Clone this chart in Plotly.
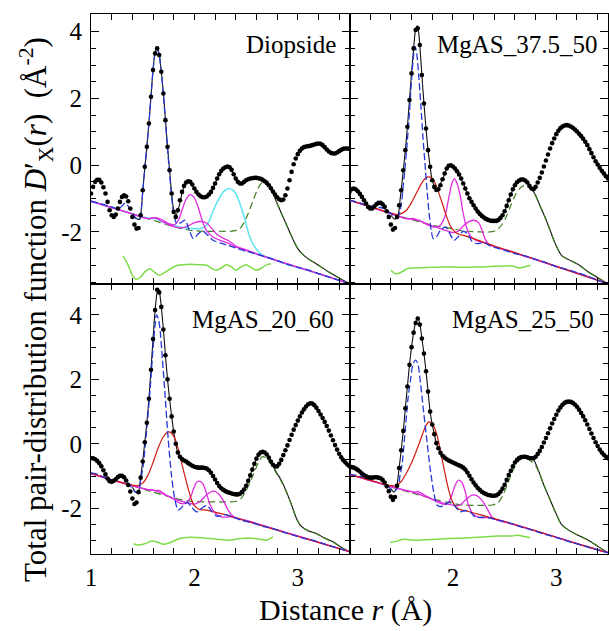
import plotly.graph_objects as go

# ---------------------------------------------------------------------------
# Experimental total pair-distribution functions D'_X(r), sampled every 0.02 A
# from r = 1.00 to 3.50 A (black dots)
# ---------------------------------------------------------------------------
R_DOTS = [round(1.0 + 0.02 * i, 2) for i in range(126)]

DIOP_DOTS = [
    -0.85, -0.65, -0.5, -0.44, -0.44, -0.52, -0.66, -0.85, -1.1, -1.35,
    -1.5, -1.55, -1.48, -1.3, -1.1, -0.95, -0.9, -0.94, -1.08, -1.3,
    -1.55, -1.78, -1.9, -1.88, -1.5, -0.75, -0.05, 0.55, 1.25, 2.05,
    2.85, 3.35, 3.5, 3.3, 2.8, 2.15, 1.35, 0.55, -0.15, -0.85,
    -1.4, -1.55, -1.35, -1.05, -0.8, -0.62, -0.52, -0.48, -0.5, -0.58,
    -0.7, -0.8, -0.88, -0.93, -0.96, -0.96, -0.94, -0.88, -0.8, -0.68,
    -0.55, -0.4, -0.27, -0.17, -0.1, -0.06, -0.04, -0.06, -0.14, -0.27,
    -0.4, -0.5, -0.55, -0.55, -0.5, -0.45, -0.42, -0.4, -0.39, -0.38,
    -0.38, -0.39, -0.41, -0.44, -0.48, -0.53, -0.6, -0.69, -0.79, -0.88,
    -0.96, -1.02, -1.05, -1.03, -0.9, -0.7, -0.45, -0.2, 0.03, 0.2,
    0.33, 0.43, 0.5, 0.54, 0.56, 0.57, 0.58, 0.6, 0.62, 0.64,
    0.65, 0.64, 0.6, 0.54, 0.47, 0.41, 0.37, 0.35, 0.35, 0.38,
    0.42, 0.46, 0.49, 0.5, 0.5, 0.49,
]

MG375_DOTS = [
    -0.8, -0.72, -0.7, -0.72, -0.78, -0.86, -0.95, -1.05, -1.15, -1.25,
    -1.3, -1.3, -1.24, -1.17, -1.13, -1.13, -1.17, -1.25, -1.38, -1.55,
    -1.78, -1.93, -1.88, -1.55, -1.2, -0.75, -0.15, 0.45, 1.15, 1.95,
    2.75, 3.5, 4.05, 4.1, 3.6, 2.7, 1.85, 1.1, 0.45, -0.05,
    -0.45, -0.65, -0.74, -0.72, -0.6, -0.42, -0.25, -0.1, -0.02, 0.0,
    -0.04, -0.1, -0.18, -0.28, -0.4, -0.55, -0.7, -0.85, -0.99, -1.1,
    -1.2, -1.3, -1.39, -1.46, -1.52, -1.57, -1.61, -1.64, -1.66, -1.67,
    -1.67, -1.67, -1.64, -1.58, -1.5, -1.38, -1.22, -1.05, -0.88, -0.72,
    -0.6, -0.51, -0.46, -0.43, -0.43, -0.46, -0.52, -0.62, -0.7, -0.72,
    -0.65, -0.52, -0.38, -0.22, -0.04, 0.14, 0.32, 0.5, 0.66, 0.8,
    0.93, 1.03, 1.11, 1.16, 1.19, 1.2, 1.19, 1.16, 1.12, 1.07,
    1.01, 0.94, 0.87, 0.79, 0.7, 0.6, 0.48, 0.36, 0.24, 0.12,
    0.02, -0.08, -0.17, -0.25, -0.33, -0.4,
]

MG2060_DOTS = [
    -0.45, -0.45, -0.48, -0.53, -0.6, -0.7, -0.82, -0.95, -1.08, -1.16,
    -1.18, -1.15, -1.1, -1.03, -0.99, -0.99, -1.04, -1.14, -1.28, -1.48,
    -1.7, -1.87, -1.82, -1.5, -1.05, -0.55, 0.05, 0.65, 1.4, 2.3,
    3.25, 4.15, 4.78, 4.7, 4.25, 3.55, 2.75, 2.0, 1.4, 0.85,
    0.38, 0.0, -0.27, -0.4, -0.47, -0.52, -0.55, -0.6, -0.64, -0.68,
    -0.71, -0.73, -0.74, -0.74, -0.74, -0.75, -0.77, -0.82, -0.9, -1.0,
    -1.11, -1.22, -1.31, -1.38, -1.43, -1.47, -1.5, -1.52, -1.54, -1.56,
    -1.57, -1.57, -1.55, -1.5, -1.42, -1.3, -1.15, -0.98, -0.8, -0.62,
    -0.46, -0.34, -0.27, -0.25, -0.27, -0.33, -0.43, -0.55, -0.65, -0.7,
    -0.7, -0.62, -0.5, -0.35, -0.2, -0.05, 0.12, 0.28, 0.44, 0.58,
    0.72, 0.85, 0.97, 1.07, 1.16, 1.23, 1.26, 1.25, 1.2, 1.12,
    1.02, 0.91, 0.8, 0.68, 0.55, 0.41, 0.26, 0.11, -0.04, -0.18,
    -0.31, -0.42, -0.51, -0.58, -0.64, -0.7,
]

MG2550_DOTS = [
    -0.71, -0.72, -0.74, -0.77, -0.81, -0.86, -0.92, -0.97, -1.01, -1.04,
    -1.05, -1.05, -1.04, -1.04, -1.05, -1.07, -1.12, -1.2, -1.32, -1.47,
    -1.64, -1.74, -1.65, -1.3, -0.75, -0.2, 0.4, 1.1, 1.78, 2.45,
    3.0, 3.45, 3.75, 3.89, 3.7, 3.27, 2.8, 2.25, 1.62, 1.0,
    0.6, 0.3, 0.02, -0.14, -0.28, -0.37, -0.43, -0.48, -0.52, -0.55,
    -0.58, -0.61, -0.64, -0.67, -0.7, -0.74, -0.8, -0.89, -0.99, -1.1,
    -1.2, -1.29, -1.37, -1.43, -1.49, -1.53, -1.56, -1.59, -1.6, -1.61,
    -1.61, -1.6, -1.56, -1.49, -1.39, -1.27, -1.12, -0.97, -0.84, -0.7,
    -0.58, -0.5, -0.44, -0.41, -0.4, -0.4, -0.42, -0.44, -0.45, -0.45,
    -0.4, -0.32, -0.22, -0.1, 0.04, 0.18, 0.33, 0.48, 0.63, 0.77,
    0.9, 1.03, 1.13, 1.21, 1.27, 1.3, 1.31, 1.3, 1.27, 1.22,
    1.15, 1.06, 0.96, 0.85, 0.73, 0.6, 0.46, 0.32, 0.18, 0.05,
    -0.07, -0.18, -0.27, -0.34, -0.4, -0.45,
]

# ---------------------------------------------------------------------------
# Fitted model and its partial contributions, as (r, D) pairs
# ---------------------------------------------------------------------------
DIOP_FIT = [(1.40, -1.45), (1.44, -1.6), (1.47, -1.62), (1.49, -1.2), (1.50, -0.8), (1.52, -0.1),
            (1.54, 0.55), (1.56, 1.25), (1.58, 2.05), (1.60, 2.85), (1.62, 3.38), (1.64, 3.52),
            (1.66, 3.32), (1.68, 2.8), (1.70, 2.15), (1.72, 1.35), (1.74, 0.55), (1.76, -0.15),
            (1.78, -0.85), (1.80, -1.35), (1.82, -1.5), (1.85, -1.25), (1.90, -0.65), (1.95, -0.48),
            (2.00, -0.7), (2.05, -0.9), (2.10, -0.95), (2.15, -0.85), (2.20, -0.55), (2.25, -0.2),
            (2.30, -0.06), (2.34, -0.06), (2.38, -0.27), (2.42, -0.5), (2.46, -0.55), (2.52, -0.42),
            (2.60, -0.38), (2.66, -0.44), (2.71, -0.58), (2.75, -0.78), (2.80, -1.15), (2.85, -1.5),
            (2.90, -1.85), (2.95, -2.2), (3.00, -2.5), (3.05, -2.68), (3.10, -2.8), (3.20, -3.0),
            (3.30, -3.2), (3.40, -3.38), (3.50, -3.55)]
DIOP_SIO = [(1.00, -1.08), (1.10, -1.16), (1.20, -1.25), (1.27, -1.3), (1.33, -1.14), (1.38, -1.32),
            (1.43, -1.58), (1.47, -1.62), (1.49, -1.2), (1.50, -0.8), (1.52, -0.1), (1.54, 0.55),
            (1.56, 1.25), (1.58, 2.05), (1.60, 2.85), (1.62, 3.35), (1.64, 3.48), (1.66, 3.28),
            (1.68, 2.78), (1.70, 2.12), (1.72, 1.3), (1.74, 0.5), (1.76, -0.25), (1.78, -0.95),
            (1.80, -1.45), (1.83, -1.75), (1.87, -1.72), (1.91, -1.65), (1.95, -1.95), (1.99, -2.2),
            (2.04, -2.05), (2.08, -1.97), (2.13, -2.1), (2.18, -2.25), (2.25, -2.33), (2.32, -2.4),
            (2.40, -2.48), (2.50, -2.58), (2.60, -2.66), (2.70, -2.76), (2.80, -2.86), (2.90, -2.97),
            (3.00, -3.06), (3.10, -3.14), (3.20, -3.25), (3.30, -3.35), (3.40, -3.45), (3.50, -3.55)]
DIOP_OO = [(1.00, -1.08), (1.20, -1.27), (1.40, -1.46), (1.60, -1.65), (1.80, -1.84), (1.96, -1.95),
           (2.10, -1.98), (2.25, -1.98), (2.38, -1.97), (2.44, -1.9), (2.48, -1.72), (2.52, -1.45),
           (2.56, -1.12), (2.60, -0.8), (2.64, -0.57), (2.67, -0.5), (2.71, -0.58), (2.75, -0.78),
           (2.80, -1.15), (2.85, -1.5), (2.90, -1.85), (2.95, -2.2), (3.00, -2.5), (3.05, -2.68),
           (3.10, -2.8), (3.20, -3.0), (3.30, -3.2), (3.40, -3.38), (3.50, -3.55)]
DIOP_CAO = [(1.00, -1.08), (1.20, -1.27), (1.40, -1.46), (1.55, -1.58), (1.62, -1.6), (1.73, -1.75),
            (1.86, -1.85), (1.99, -1.9), (2.08, -1.88), (2.13, -1.75), (2.18, -1.38), (2.23, -1.05),
            (2.28, -0.8), (2.335, -0.7), (2.39, -0.8), (2.44, -1.15), (2.49, -1.65), (2.535, -2.15),
            (2.60, -2.52), (2.66, -2.7), (2.75, -2.8), (2.85, -2.92), (3.00, -3.06), (3.20, -3.25),
            (3.50, -3.55)]
DIOP_MGO1 = [(1.00, -1.08), (1.20, -1.27), (1.40, -1.46), (1.55, -1.6), (1.62, -1.57), (1.68, -1.62),
             (1.75, -1.75), (1.81, -1.78), (1.85, -1.62), (1.88, -1.35), (1.92, -1.02), (1.96, -0.88),
             (2.00, -0.98), (2.04, -1.3), (2.08, -1.7), (2.12, -1.97), (2.18, -2.15), (2.25, -2.25),
             (2.32, -2.33), (2.40, -2.45), (2.60, -2.66), (2.80, -2.86), (3.00, -3.06), (3.20, -3.25),
             (3.50, -3.55)]
DIOP_MGO2 = [(1.00, -1.08), (1.20, -1.27), (1.40, -1.46), (1.55, -1.6), (1.62, -1.58), (1.70, -1.7),
             (1.80, -1.84), (1.88, -1.88), (1.95, -1.8), (2.01, -1.71), (2.07, -1.69), (2.12, -1.74),
             (2.17, -1.9), (2.22, -2.08), (2.27, -2.18), (2.33, -2.26), (2.40, -2.42), (2.50, -2.54),
             (2.70, -2.76), (2.90, -2.96), (3.10, -3.15), (3.30, -3.35), (3.50, -3.55)]
DIOP_RESID = [(1.31, -2.72), (1.36, -3.0), (1.40, -3.3), (1.44, -3.42), (1.48, -3.35), (1.52, -3.2),
              (1.57, -3.1), (1.62, -3.22), (1.66, -3.3), (1.72, -3.2), (1.78, -3.08), (1.84, -3.0),
              (1.90, -2.98), (1.96, -2.97), (2.04, -2.98), (2.12, -3.0), (2.17, -3.1), (2.21, -3.15),
              (2.26, -3.08), (2.31, -2.98), (2.36, -3.05), (2.40, -3.15), (2.45, -3.05), (2.50, -2.98),
              (2.55, -3.07), (2.60, -3.15), (2.65, -3.08), (2.70, -2.98), (2.74, -2.95)]

MG375_FIT = [(1.40, -1.5), (1.44, -1.62), (1.47, -1.5), (1.49, -1.0), (1.50, -0.75), (1.52, -0.15),
             (1.54, 0.45), (1.56, 1.15), (1.58, 1.95), (1.60, 2.75), (1.62, 3.5), (1.64, 4.08),
             (1.655, 4.18), (1.67, 3.95), (1.68, 3.6), (1.70, 2.7), (1.72, 1.85), (1.74, 1.1),
             (1.76, 0.45), (1.78, -0.05), (1.80, -0.45), (1.84, -0.74), (1.90, -0.42), (1.95, -0.05),
             (1.99, 0.0), (2.05, -0.24), (2.10, -0.55), (2.16, -0.99), (2.22, -1.3), (2.30, -1.57),
             (2.38, -1.67), (2.44, -1.64), (2.50, -1.38), (2.56, -0.88), (2.62, -0.51), (2.67, -0.43),
             (2.72, -0.52), (2.76, -0.7), (2.80, -0.9), (2.84, -1.2), (2.89, -1.55), (2.94, -1.95),
             (2.99, -2.35), (3.05, -2.7), (3.12, -2.83), (3.21, -2.97), (3.31, -3.2), (3.39, -3.35),
             (3.50, -3.56)]
MG375_SIO = [(1.00, -1.05), (1.10, -1.13), (1.20, -1.22), (1.28, -1.26), (1.34, -1.3), (1.40, -1.45),
             (1.46, -1.55), (1.48, -1.48), (1.50, -1.2), (1.52, -0.6), (1.54, 0.02), (1.56, 0.75),
             (1.58, 1.6), (1.60, 2.55), (1.62, 3.3), (1.635, 3.55), (1.65, 3.35), (1.67, 2.65),
             (1.69, 1.8), (1.71, 0.85), (1.73, 0.05), (1.75, -0.75), (1.77, -1.45), (1.79, -1.95),
             (1.81, -2.2), (1.84, -2.15), (1.88, -1.95), (1.93, -1.85), (1.97, -2.05), (2.01, -2.25),
             (2.05, -2.15), (2.10, -1.98), (2.14, -2.05), (2.19, -2.3), (2.24, -2.35), (2.30, -2.32),
             (2.36, -2.42), (2.42, -2.48), (2.50, -2.55), (2.60, -2.65), (2.70, -2.72), (2.80, -2.82),
             (2.90, -2.92), (3.00, -3.04), (3.10, -3.12), (3.20, -3.22), (3.30, -3.32), (3.40, -3.45),
             (3.50, -3.55)]
MG375_ALO = [(1.00, -1.05), (1.20, -1.24), (1.40, -1.43), (1.46, -1.48), (1.50, -1.45), (1.55, -1.35),
             (1.60, -1.12), (1.65, -0.82), (1.70, -0.53), (1.74, -0.38), (1.77, -0.35), (1.80, -0.4),
             (1.83, -0.55), (1.86, -0.8), (1.90, -1.17), (1.94, -1.55), (1.98, -1.85), (2.02, -2.0),
             (2.06, -2.07), (2.12, -2.12), (2.20, -2.2), (2.40, -2.42), (2.60, -2.62), (2.80, -2.82),
             (3.00, -3.03), (3.20, -3.24), (3.50, -3.55)]
MG375_MGO1 = [(1.00, -1.05), (1.20, -1.25), (1.40, -1.45), (1.55, -1.6), (1.62, -1.62), (1.68, -1.66),
              (1.75, -1.78), (1.82, -1.85), (1.87, -1.82), (1.90, -1.7), (1.93, -1.45), (1.96, -0.98),
              (1.99, -0.55), (2.015, -0.4), (2.04, -0.55), (2.07, -0.9), (2.10, -1.45), (2.13, -1.85),
              (2.17, -2.12), (2.22, -2.25), (2.30, -2.32), (2.40, -2.43), (2.60, -2.63), (2.80, -2.83),
              (3.00, -3.04), (3.20, -3.24), (3.50, -3.55)]
MG375_MGO2 = [(1.00, -1.05), (1.20, -1.25), (1.40, -1.45), (1.55, -1.6), (1.62, -1.6), (1.70, -1.7),
              (1.80, -1.82), (1.90, -1.92), (2.00, -2.02), (2.05, -1.98), (2.10, -1.82), (2.15, -1.7),
              (2.20, -1.65), (2.25, -1.73), (2.28, -1.93), (2.31, -2.2), (2.35, -2.38), (2.40, -2.43),
              (2.50, -2.53), (2.70, -2.73), (2.90, -2.93), (3.10, -3.13), (3.30, -3.33), (3.50, -3.55)]
MG375_OO = [(1.00, -1.05), (1.20, -1.25), (1.40, -1.45), (1.60, -1.63), (1.80, -1.8), (1.95, -1.88),
            (2.10, -1.97), (2.25, -2.0), (2.36, -2.0), (2.42, -1.95), (2.47, -1.8), (2.52, -1.52),
            (2.56, -1.2), (2.60, -0.92), (2.64, -0.72), (2.68, -0.62), (2.72, -0.62), (2.76, -0.72),
            (2.80, -0.92), (2.84, -1.2), (2.89, -1.55), (2.94, -1.95), (2.99, -2.35), (3.05, -2.7),
            (3.12, -2.83), (3.21, -2.97), (3.31, -3.2), (3.39, -3.35), (3.50, -3.56)]
MG375_RESID = [(1.40, -3.15), (1.44, -3.25), (1.48, -3.24), (1.52, -3.17), (1.56, -3.1), (1.62, -3.08),
               (1.70, -3.07), (1.80, -3.06), (1.90, -3.05), (2.00, -3.05), (2.10, -3.06), (2.20, -3.05),
               (2.30, -3.05), (2.40, -3.03), (2.50, -3.02), (2.58, -3.02), (2.635, -3.08), (2.69, -3.05),
               (2.75, -3.0)]

MG2060_FIT = [(1.40, -1.35), (1.44, -1.52), (1.465, -1.42), (1.48, -1.05), (1.50, -0.55), (1.52, 0.05),
              (1.54, 0.65), (1.56, 1.4), (1.58, 2.3), (1.60, 3.25), (1.62, 4.15), (1.64, 4.72),
              (1.65, 4.82), (1.66, 4.75), (1.68, 4.25), (1.70, 3.55), (1.72, 2.75), (1.74, 2.0),
              (1.76, 1.4), (1.78, 0.85), (1.80, 0.38), (1.82, 0.0), (1.84, -0.27), (1.88, -0.47),
              (1.95, -0.62), (2.05, -0.74), (2.12, -0.77), (2.18, -1.0), (2.24, -1.31), (2.32, -1.5),
              (2.40, -1.57), (2.46, -1.5), (2.52, -1.15), (2.58, -0.62), (2.63, -0.3), (2.66, -0.25),
              (2.70, -0.33), (2.74, -0.55), (2.79, -0.87), (2.84, -1.13), (2.89, -1.49), (2.94, -1.9),
              (2.985, -2.3), (3.03, -2.55), (3.10, -2.7), (3.18, -2.78), (3.24, -2.89), (3.34, -3.04),
              (3.43, -3.23), (3.50, -3.35)]
MG2060_SIO = [(1.00, -0.9), (1.05, -0.93), (1.10, -1.0), (1.16, -1.09), (1.22, -1.11), (1.28, -1.03),
              (1.32, -1.08), (1.38, -1.3), (1.43, -1.5), (1.46, -1.45), (1.48, -1.15), (1.505, -0.66),
              (1.537, 0.37), (1.57, 1.62), (1.60, 2.96), (1.62, 3.7), (1.634, 4.0), (1.65, 3.9),
              (1.666, 3.6), (1.69, 2.65), (1.714, 1.62), (1.746, 0.17), (1.778, -0.97), (1.81, -1.7),
              (1.843, -2.06), (1.87, -2.0), (1.90, -1.88), (1.93, -1.82), (1.97, -1.95), (2.02, -2.11),
              (2.07, -2.0), (2.12, -1.92), (2.17, -2.1), (2.22, -2.25), (2.30, -2.2), (2.38, -2.28),
              (2.46, -2.38), (2.55, -2.44), (2.65, -2.55), (2.75, -2.62), (2.85, -2.73), (2.95, -2.83),
              (3.05, -2.93), (3.15, -3.0), (3.25, -3.1), (3.35, -3.2), (3.45, -3.3), (3.50, -3.35)]
MG2060_ALO = [(1.00, -0.92), (1.20, -1.11), (1.35, -1.25), (1.45, -1.3), (1.50, -1.22), (1.55, -0.98),
              (1.60, -0.58), (1.65, -0.12), (1.70, 0.22), (1.746, 0.37), (1.78, 0.33), (1.81, 0.17),
              (1.84, -0.12), (1.87, -0.5), (1.90, -0.9), (1.94, -1.39), (1.97, -1.72), (2.00, -1.92),
              (2.05, -2.04), (2.10, -2.05), (2.20, -2.12), (2.30, -2.2), (2.40, -2.3), (2.60, -2.49),
              (2.80, -2.68), (3.00, -2.87), (3.20, -3.06), (3.50, -3.35)]
MG2060_MGO1 = [(1.00, -0.92), (1.20, -1.12), (1.40, -1.3), (1.55, -1.42), (1.62, -1.45), (1.66, -1.45),
               (1.72, -1.58), (1.80, -1.72), (1.86, -1.84), (1.92, -1.84), (1.96, -1.68), (1.99, -1.41),
               (2.02, -1.2), (2.05, -1.16), (2.085, -1.26), (2.117, -1.54), (2.15, -1.88), (2.20, -2.15),
               (2.26, -2.27), (2.35, -2.27), (2.45, -2.34), (2.60, -2.48), (2.80, -2.67), (3.00, -2.86),
               (3.20, -3.06), (3.50, -3.35)]
MG2060_MGO2 = [(1.00, -0.92), (1.20, -1.12), (1.40, -1.3), (1.55, -1.42), (1.62, -1.45), (1.70, -1.56),
               (1.80, -1.7), (1.90, -1.8), (2.00, -1.87), (2.05, -1.8), (2.10, -1.64), (2.15, -1.51),
               (2.187, -1.47), (2.23, -1.54), (2.277, -1.75), (2.316, -2.0), (2.36, -2.21), (2.41, -2.31),
               (2.50, -2.38), (2.70, -2.57), (2.90, -2.77), (3.10, -2.96), (3.30, -3.16), (3.50, -3.35)]
MG2060_OO = [(1.00, -0.92), (1.20, -1.11), (1.40, -1.3), (1.60, -1.5), (1.80, -1.68), (1.95, -1.78),
             (2.10, -1.8), (2.30, -1.8), (2.40, -1.79), (2.45, -1.7), (2.50, -1.45), (2.55, -1.1),
             (2.60, -0.72), (2.63, -0.5), (2.66, -0.4), (2.70, -0.45), (2.74, -0.62), (2.79, -0.9),
             (2.84, -1.16), (2.89, -1.5), (2.94, -1.9), (2.985, -2.3), (3.03, -2.55), (3.10, -2.7),
             (3.18, -2.79), (3.24, -2.9), (3.34, -3.05), (3.43, -3.23), (3.50, -3.35)]
MG2060_RESID = [(1.41, -3.1), (1.457, -3.14), (1.52, -3.1), (1.585, -3.02), (1.64, -3.05), (1.70, -3.12),
                (1.76, -3.07), (1.86, -2.94), (1.955, -2.9), (2.085, -2.92), (2.213, -2.96), (2.34, -2.99),
                (2.44, -2.94), (2.535, -2.92), (2.63, -2.96), (2.70, -2.99), (2.76, -2.89)]

MG2550_FIT = [(1.40, -1.4), (1.43, -1.5), (1.455, -1.35), (1.48, -0.75), (1.50, -0.2), (1.52, 0.4),
              (1.54, 1.1), (1.56, 1.78), (1.58, 2.45), (1.60, 3.0), (1.62, 3.45), (1.64, 3.78),
              (1.66, 3.92), (1.68, 3.72), (1.70, 3.27), (1.72, 2.8), (1.74, 2.25), (1.76, 1.62),
              (1.78, 1.0), (1.80, 0.6), (1.82, 0.3), (1.84, 0.02), (1.88, -0.28), (1.94, -0.48),
              (2.02, -0.61), (2.08, -0.7), (2.12, -0.8), (2.18, -1.1), (2.24, -1.37), (2.30, -1.53),
              (2.38, -1.61), (2.44, -1.56), (2.50, -1.27), (2.56, -0.84), (2.62, -0.5), (2.68, -0.4),
              (2.74, -0.44), (2.78, -0.5), (2.83, -0.85), (2.87, -1.2), (2.92, -1.59), (2.99, -2.11),
              (3.05, -2.5), (3.12, -2.68), (3.21, -2.84), (3.31, -2.99), (3.41, -3.2), (3.50, -3.38)]
MG2550_SIO = [(1.00, -0.95), (1.05, -0.97), (1.10, -1.0), (1.20, -1.08), (1.28, -1.08), (1.34, -1.2),
              (1.40, -1.4), (1.44, -1.45), (1.47, -1.32), (1.49, -0.95), (1.508, -0.66), (1.54, 0.48),
              (1.566, 1.41), (1.59, 1.98), (1.61, 2.42), (1.637, 2.6), (1.66, 2.5), (1.685, 1.93),
              (1.717, 0.99), (1.75, 0.06), (1.78, -0.76), (1.814, -1.49), (1.846, -1.9), (1.878, -1.95),
              (1.927, -1.88), (1.975, -1.8), (2.023, -1.95), (2.07, -2.11), (2.12, -2.07), (2.17, -2.12),
              (2.216, -2.27), (2.28, -2.28), (2.35, -2.3), (2.45, -2.38), (2.55, -2.46), (2.65, -2.57),
              (2.75, -2.66), (2.85, -2.77), (2.95, -2.86), (3.05, -2.96), (3.15, -3.06), (3.25, -3.15),
              (3.35, -3.25), (3.50, -3.38)]
MG2550_ALO = [(1.00, -0.95), (1.20, -1.13), (1.40, -1.3), (1.45, -1.3), (1.50, -1.17), (1.54, -0.97),
              (1.59, -0.66), (1.637, -0.3), (1.685, 0.11), (1.734, 0.53), (1.766, 0.68), (1.80, 0.63),
              (1.83, 0.43), (1.862, 0.06), (1.894, -0.45), (1.927, -0.97), (1.96, -1.44), (1.99, -1.75),
              (2.04, -1.99), (2.09, -2.06), (2.15, -2.1), (2.25, -2.19), (2.40, -2.32), (2.60, -2.51),
              (2.80, -2.7), (3.00, -2.9), (3.20, -3.1), (3.50, -3.38)]
MG2550_MGO1 = [(1.00, -0.95), (1.20, -1.14), (1.40, -1.33), (1.55, -1.45), (1.62, -1.5), (1.66, -1.48),
               (1.72, -1.58), (1.80, -1.72), (1.88, -1.85), (1.93, -1.88), (1.96, -1.8), (1.99, -1.59),
               (2.023, -1.28), (2.055, -1.13), (2.087, -1.2), (2.12, -1.49), (2.15, -1.9), (2.20, -2.2),
               (2.26, -2.29), (2.35, -2.29), (2.45, -2.38), (2.60, -2.51), (2.80, -2.7), (3.00, -2.9),
               (3.20, -3.1), (3.50, -3.38)]
MG2550_MGO2 = [(1.00, -0.95), (1.20, -1.14), (1.40, -1.33), (1.55, -1.45), (1.62, -1.5), (1.70, -1.6),
               (1.80, -1.72), (1.90, -1.83), (2.00, -1.9), (2.05, -1.92), (2.087, -1.85), (2.136, -1.7),
               (2.184, -1.59), (2.23, -1.61), (2.28, -1.75), (2.33, -2.01), (2.377, -2.27), (2.425, -2.37),
               (2.50, -2.43), (2.70, -2.61), (2.90, -2.8), (3.10, -3.0), (3.30, -3.2), (3.50, -3.38)]
MG2550_OO = [(1.00, -0.95), (1.20, -1.13), (1.40, -1.33), (1.60, -1.52), (1.80, -1.7), (1.95, -1.82),
             (2.10, -1.9), (2.25, -1.91), (2.38, -1.9), (2.44, -1.82), (2.48, -1.62), (2.52, -1.32),
             (2.56, -0.98), (2.60, -0.7), (2.64, -0.52), (2.68, -0.45), (2.72, -0.47), (2.76, -0.55),
             (2.80, -0.68), (2.83, -0.87), (2.87, -1.2), (2.92, -1.59), (2.99, -2.11), (3.05, -2.5),
             (3.12, -2.68), (3.21, -2.84), (3.31, -2.99), (3.41, -3.2), (3.50, -3.38)]
MG2550_RESID = [(1.396, -3.06), (1.46, -3.02), (1.524, -2.96), (1.58, -2.98), (1.637, -2.99), (1.72, -2.98),
                (1.80, -2.97), (1.96, -2.94), (2.12, -2.92), (2.28, -2.89), (2.44, -2.86), (2.57, -2.86),
                (2.63, -2.84), (2.69, -2.88), (2.747, -2.91)]

PANEL_NAMES = ["Diopside", "MgAS_37.5_50", "MgAS_20_60", "MgAS_25_50"]
X_TICKS = [1, 2, 3]
Y_TICKS = [-2, 0, 2, 4]
Y_TICK_TEXT = ["-2", "0", "2", "4"]

# ---------------------------------------------------------------------------
# Styling
# ---------------------------------------------------------------------------
FONT = "Liberation Serif"
STYLE = {
    "fit":   dict(color="#111111", width=1.1),
    "OO":    dict(color="#3d7d1f", width=1.2, dash="7px,4px"),
    "CaO":   dict(color="#62e6f2", width=1.6),
    "MgO":   dict(color="#e02ce0", width=1.3),
    "AlO":   dict(color="#d01a12", width=1.2),
    "SiO":   dict(color="#2438d6", width=1.3, dash="7px,3px"),
    "resid": dict(color="#7ddc48", width=1.5),
}

PANELS = [
    dict(ax="", dots=DIOP_DOTS, curves=[("fit", DIOP_FIT), ("OO", DIOP_OO), ("CaO", DIOP_CAO),
                                         ("MgO", DIOP_MGO2), ("MgO", DIOP_MGO1), ("SiO", DIOP_SIO),
                                         ("resid", DIOP_RESID)]),
    dict(ax="2", dots=MG375_DOTS, curves=[("fit", MG375_FIT), ("OO", MG375_OO), ("MgO", MG375_MGO2),
                                           ("MgO", MG375_MGO1), ("AlO", MG375_ALO), ("SiO", MG375_SIO),
                                           ("resid", MG375_RESID)]),
    dict(ax="3", dots=MG2060_DOTS, curves=[("fit", MG2060_FIT), ("OO", MG2060_OO), ("MgO", MG2060_MGO2),
                                            ("MgO", MG2060_MGO1), ("AlO", MG2060_ALO), ("SiO", MG2060_SIO),
                                            ("resid", MG2060_RESID)]),
    dict(ax="4", dots=MG2550_DOTS, curves=[("fit", MG2550_FIT), ("OO", MG2550_OO), ("MgO", MG2550_MGO2),
                                            ("MgO", MG2550_MGO1), ("AlO", MG2550_ALO), ("SiO", MG2550_SIO),
                                            ("resid", MG2550_RESID)]),
]

fig = go.Figure()

for p in PANELS:
    xa, ya = "x" + p["ax"], "y" + p["ax"]
    for key, pairs in p["curves"]:
        fig.add_trace(go.Scatter(
            x=[q[0] for q in pairs], y=[q[1] for q in pairs], xaxis=xa, yaxis=ya,
            mode="lines", line=dict(shape="spline", smoothing=0.8, **STYLE[key]),
            hoverinfo="skip", showlegend=False))
    fig.add_trace(go.Scatter(
        x=R_DOTS, y=p["dots"], xaxis=xa, yaxis=ya, mode="markers",
        marker=dict(color="black", size=4.6, line=dict(width=0)),
        hoverinfo="skip", showlegend=False))

W, H = 609, 631
ML, MR, MT, MB = 91, 1, 14, 77
PW, PH = W - ML - MR, H - MT - MB


def px_x(px):
    return (px - ML) / PW


def px_y(py):
    return (H - MB - py) / PH


def x_axis(domain, anchor, labels, tickvals):
    return dict(
        domain=domain, anchor=anchor, range=[1.0, 3.5],
        showline=True, linecolor="black", linewidth=1, mirror="ticks",
        ticks="inside", ticklen=6, tickwidth=1, tickcolor="black",
        tickmode="array", tickvals=tickvals, ticktext=[str(v) for v in tickvals],
        showticklabels=labels, ticklabelstandoff=1,
        tickfont=dict(family=FONT, size=25, color="black"),
        minor=dict(tickmode="linear", tick0=1.0, dtick=0.2, ticks="inside",
                   ticklen=6, tickwidth=1, tickcolor="black", showgrid=False),
        showgrid=False, zeroline=False,
    )


def y_axis(domain, anchor, labels, yrange):
    return dict(
        domain=domain, anchor=anchor, range=yrange,
        showline=True, linecolor="black", linewidth=1, mirror="ticks",
        ticks="inside", ticklen=8, tickwidth=1, tickcolor="black",
        tickmode="array", tickvals=Y_TICKS, ticktext=Y_TICK_TEXT,
        showticklabels=labels, ticklabelstandoff=3,
        tickfont=dict(family=FONT, size=25, color="black"),
        minor=dict(tickmode="linear", tick0=0, dtick=0.5, ticks="inside",
                   ticklen=5, tickwidth=1, tickcolor="black", showgrid=False),
        showgrid=False, zeroline=False,
    )


TOP_RANGE = [-3.56, 4.53]
BOT_RANGE = [-3.42, 4.96]

fig.update_layout(
    width=W, height=H, margin=dict(l=ML, r=MR, t=MT, b=MB),
    paper_bgcolor="white", plot_bgcolor="white", hovermode=False,
    font=dict(family=FONT, color="black"),
    xaxis=x_axis([0, 0.5], "y", False, X_TICKS),
    yaxis=y_axis([0.5, 1], "x", True, TOP_RANGE),
    xaxis2=x_axis([0.5, 1], "y2", False, [2, 3]),
    yaxis2=y_axis([0.5, 1], "x2", False, TOP_RANGE),
    xaxis3=x_axis([0, 0.5], "y3", True, X_TICKS),
    yaxis3=y_axis([0, 0.5], "x3", True, BOT_RANGE),
    xaxis4=x_axis([0.5, 1], "y4", True, [2, 3]),
    yaxis4=y_axis([0, 0.5], "x4", False, BOT_RANGE),
)

label_pos = [(338, 44), (599, 44), (336, 319), (596, 319)]
annotations = []
for name, (lx, ly) in zip(PANEL_NAMES, label_pos):
    annotations.append(dict(
        text=name, x=px_x(lx), y=px_y(ly), xref="paper", yref="paper",
        xanchor="right", yanchor="middle", showarrow=False,
        font=dict(family=FONT, size=25, color="black")))

annotations.append(dict(
    text="Distance <i>r</i> (Å)", x=px_x(345), y=px_y(610), xref="paper", yref="paper",
    xanchor="center", yanchor="middle", showarrow=False,
    font=dict(family=FONT, size=30, color="black")))
annotations.append(dict(
    text="Total pair-distribution function <i>D</i>′<sub>X</sub>(<i>r</i>)&nbsp;&nbsp;(Å<sup>-2</sup>)",
    x=px_x(36), y=px_y(310), xref="paper", yref="paper", textangle=-90,
    xanchor="center", yanchor="middle", showarrow=False,
    font=dict(family=FONT, size=31, color="black")))

fig.update_layout(annotations=annotations)

fig.write_html("out.html")
